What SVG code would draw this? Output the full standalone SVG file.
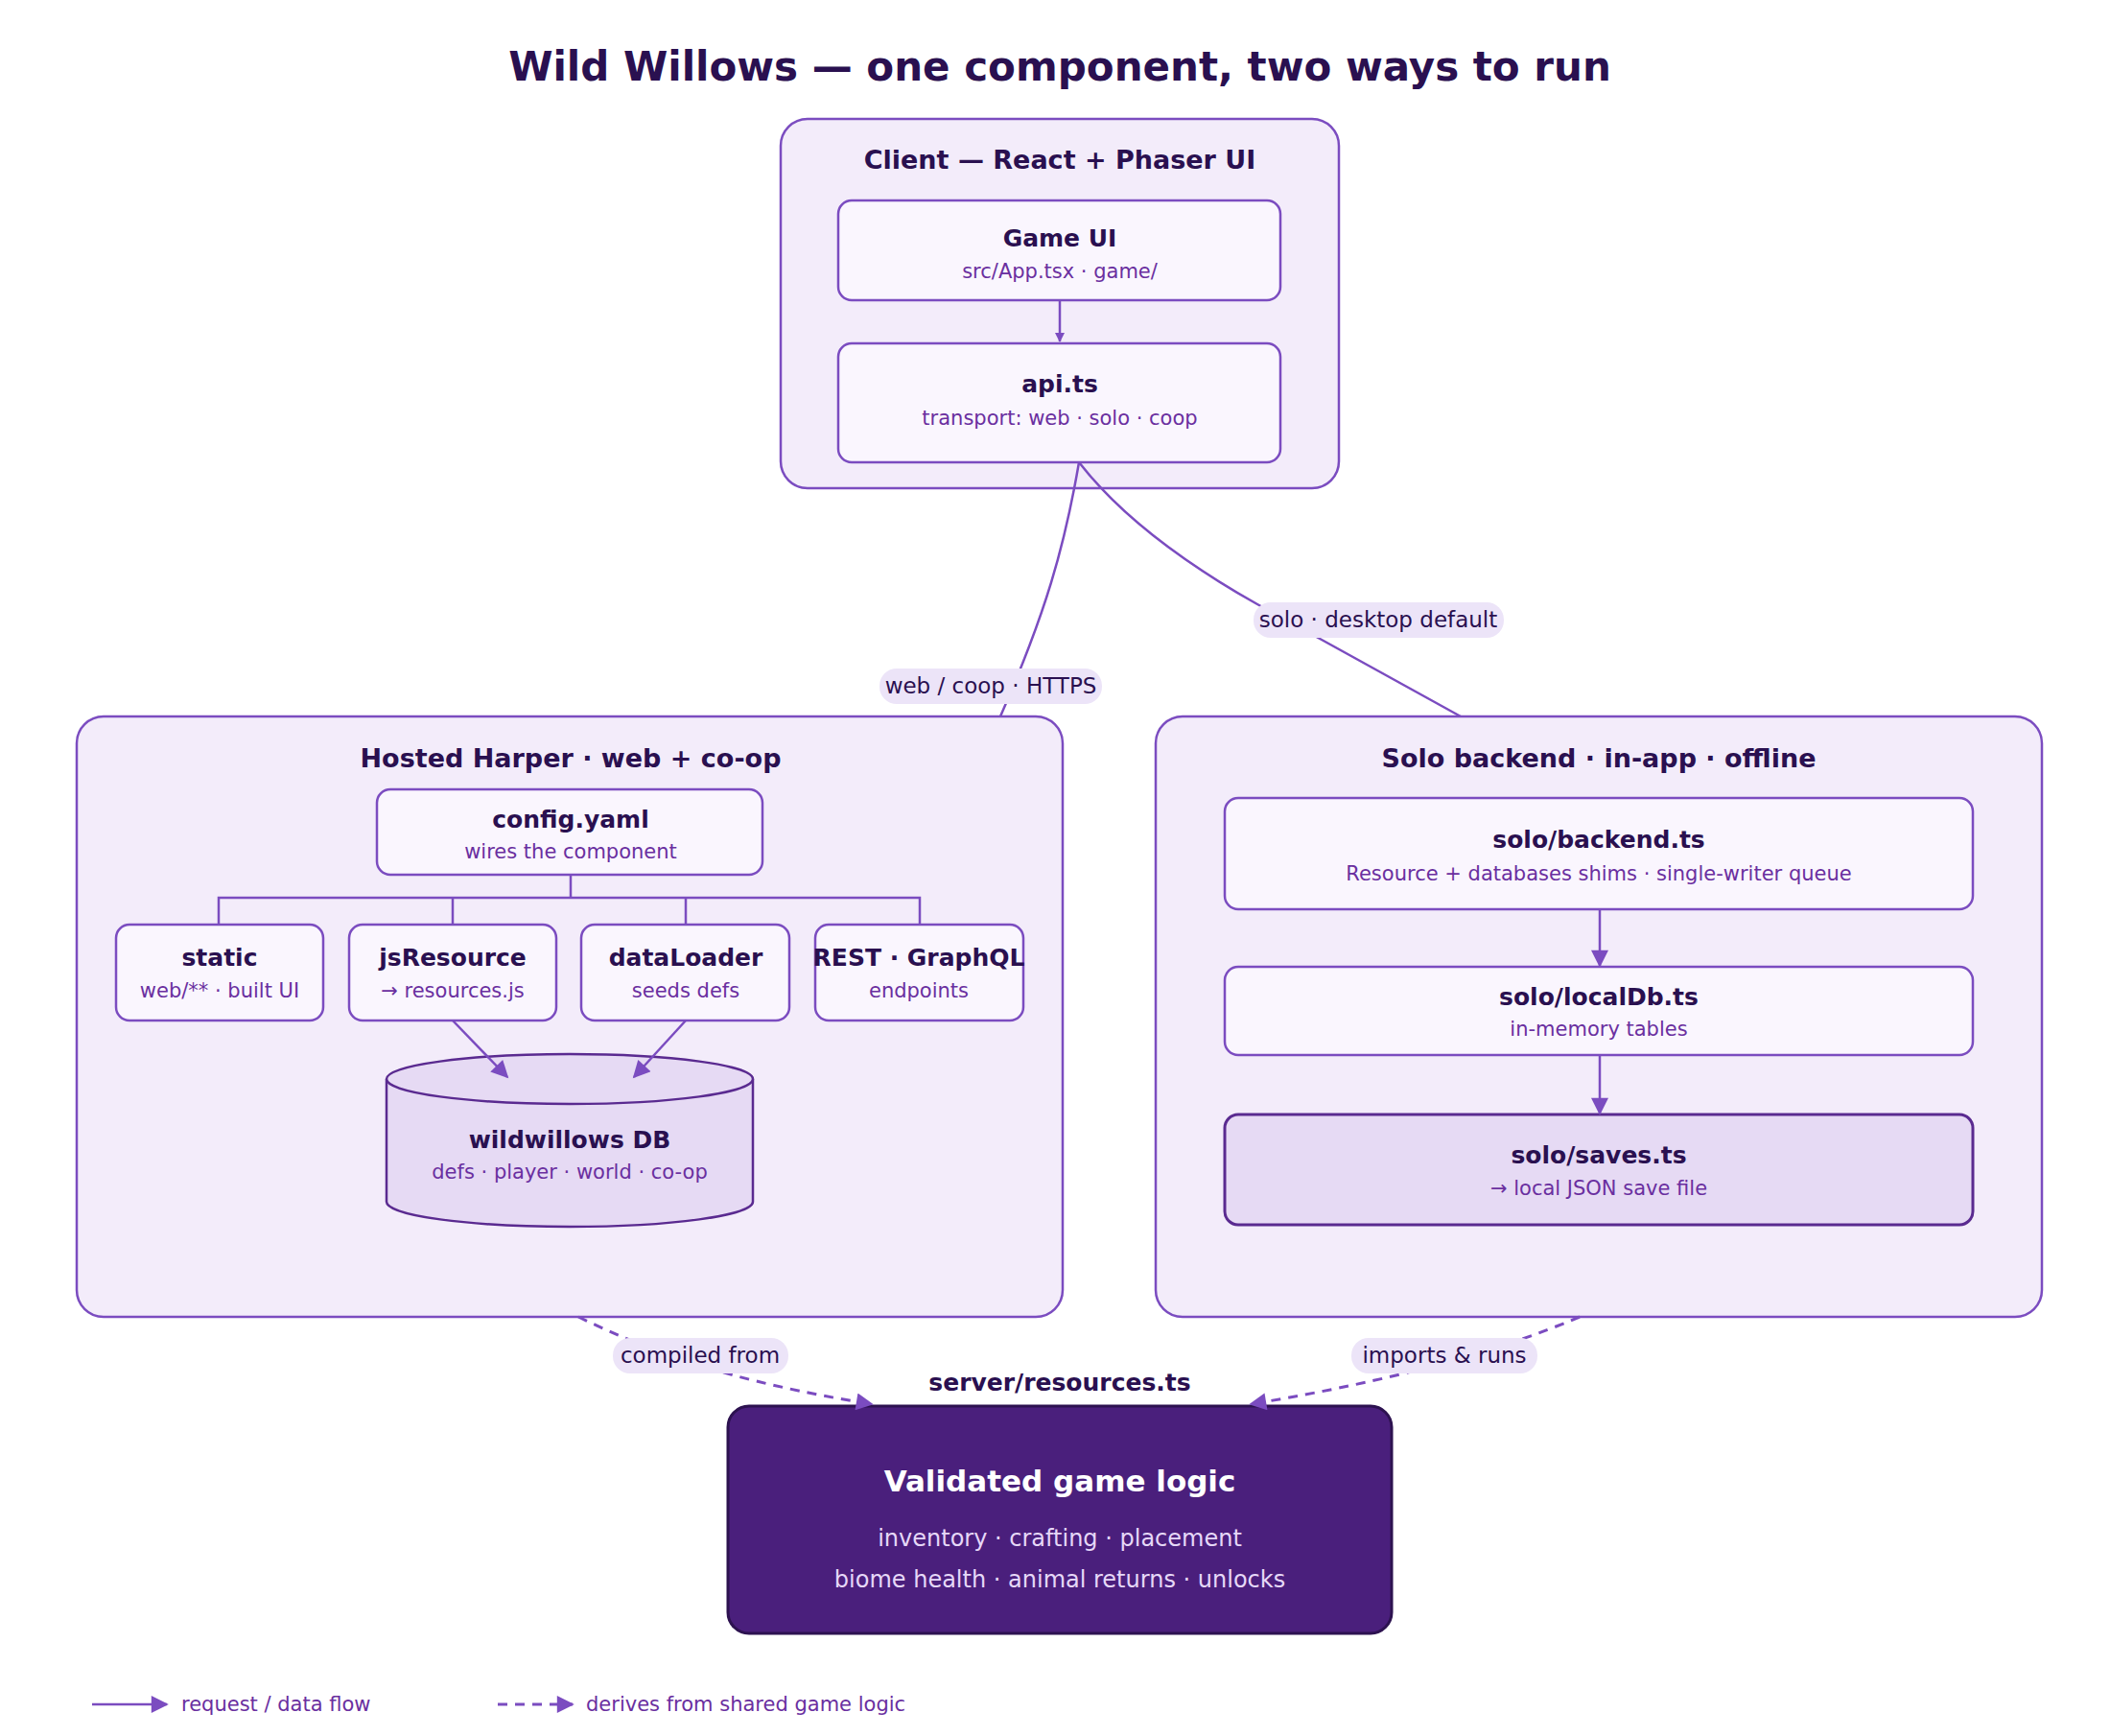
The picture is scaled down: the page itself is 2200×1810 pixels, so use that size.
<svg xmlns="http://www.w3.org/2000/svg" width="2200" height="1810" viewBox="0 0 2200 1810">
<defs>
<marker id="ah" viewBox="0 0 10 10" refX="9" refY="5" markerWidth="10" markerHeight="10" markerUnits="userSpaceOnUse" orient="auto"><path d="M0 0L10 5L0 10z" fill="#7b4cc0"/></marker>
<marker id="ahb" viewBox="0 0 10 10" refX="9" refY="5" markerWidth="20" markerHeight="18" markerUnits="userSpaceOnUse" orient="auto"><path d="M0 0L10 5L0 10z" fill="#7b4cc0"/></marker>
<style>
text{font-family:"DejaVu Sans","Liberation Sans",sans-serif;text-anchor:middle}
.t{font-weight:bold;fill:#2a1050}
.gt{font-size:27px}
.nt{font-size:25px}
.st{font-size:21px;fill:#6a2fa0}
.grp{fill:#f3ecfa;stroke:#7b4cc0;stroke-width:2.5}
.n{fill:#faf6fe;stroke:#7b4cc0;stroke-width:2.5}
.ln{fill:none;stroke:#7b4cc0;stroke-width:2.5}
.ds{fill:none;stroke:#7b4cc0;stroke-width:3;stroke-dasharray:10 8}
.pill{fill:#ece4f8}
.lb{font-size:23px;fill:#2a1050}
</style>
</defs>
<rect width="2200" height="1810" fill="#fff"/>
<text x="1105" y="84" class="t" style="font-size:42px">Wild Willows — one component, two ways to run</text>

<g id="client"><rect x="814" y="124" width="582" height="385" rx="28" class="grp"/>
<text x="1105" y="176" class="t gt">Client — React + Phaser UI</text></g>
<g id="gameui"><rect x="874" y="209" width="461" height="104" rx="14" class="n"/>
<text x="1105" y="257" class="t nt">Game UI</text><text x="1105" y="290" class="st">src/App.tsx · game/</text></g>
<g id="api"><rect x="874" y="358" width="461" height="124" rx="14" class="n"/>
<text x="1105" y="409" class="t nt">api.ts</text><text x="1105" y="443" class="st">transport: web · solo · coop</text></g>

<g id="hosted"><rect x="80" y="747" width="1028" height="626" rx="28" class="grp"/>
<text x="595" y="800" class="t gt">Hosted Harper · web + co-op</text></g>
<g id="config"><rect x="393" y="823" width="402" height="89" rx="14" class="n"/>
<text x="595" y="863" class="t nt">config.yaml</text><text x="595" y="895" class="st">wires the component</text></g>
<g id="static"><rect x="121" y="964" width="216" height="100" rx="14" class="n"/>
<text x="229" y="1007" class="t nt">static</text><text x="229" y="1040" class="st">web/** · built UI</text></g>
<g id="jsresource"><rect x="364" y="964" width="216" height="100" rx="14" class="n"/>
<text x="472" y="1007" class="t nt">jsResource</text><text x="472" y="1040" class="st">→ resources.js</text></g>
<g id="dataloader"><rect x="606" y="964" width="217" height="100" rx="14" class="n"/>
<text x="715" y="1007" class="t nt">dataLoader</text><text x="715" y="1040" class="st">seeds defs</text></g>
<g id="rest"><rect x="850" y="964" width="217" height="100" rx="14" class="n"/>
<text x="958" y="1007" class="t nt">REST · GraphQL</text><text x="958" y="1040" class="st">endpoints</text></g>
<g id="db">
<path d="M403 1125V1253A191 26 0 0 0 785 1253V1125" fill="#e6daf4" stroke="#5a2a90" stroke-width="2.5"/>
<ellipse cx="594" cy="1125" rx="191" ry="26" fill="#e6daf4" stroke="#5a2a90" stroke-width="2.5"/>
<text x="594" y="1197" class="t nt">wildwillows DB</text><text x="594" y="1229" class="st">defs · player · world · co-op</text></g>

<g id="solo"><rect x="1205" y="747" width="924" height="626" rx="28" class="grp"/>
<text x="1667" y="800" class="t gt">Solo backend · in-app · offline</text></g>
<g id="backend"><rect x="1277" y="832" width="780" height="116" rx="14" class="n"/>
<text x="1667" y="884" class="t nt">solo/backend.ts</text><text x="1667" y="918" class="st">Resource + databases shims · single-writer queue</text></g>
<g id="localdb"><rect x="1277" y="1008" width="780" height="92" rx="14" class="n"/>
<text x="1667" y="1048" class="t nt">solo/localDb.ts</text><text x="1667" y="1080" class="st">in-memory tables</text></g>
<g id="saves"><rect x="1277" y="1162" width="780" height="115" rx="14" fill="#e6daf4" stroke="#5a2a90" stroke-width="3"/>
<text x="1667" y="1213" class="t nt">solo/saves.ts</text><text x="1667" y="1246" class="st">→ local JSON save file</text></g>

<g id="logic"><rect x="759" y="1466" width="692" height="237" rx="22" fill="#4a1f7c" stroke="#2d1250" stroke-width="3"/>
<text x="1105" y="1555" style="font-size:31px;font-weight:bold;fill:#fff">Validated game logic</text>
<text x="1105" y="1612" style="font-size:24px;fill:#e6d8f8">inventory · crafting · placement</text>
<text x="1105" y="1655" style="font-size:24px;fill:#e6d8f8">biome health · animal returns · unlocks</text></g>
<text x="1105" y="1450" class="t nt">server/resources.ts</text>

<g id="connectors">
<line x1="1105" y1="313" x2="1105" y2="356" class="ln" marker-end="url(#ah)"/>
<path d="M595 912V936M228 964V936H959V964M472 936V964M715 936V964" class="ln" stroke-width="2"/>
<line x1="472" y1="1064" x2="529" y2="1123" class="ln" marker-end="url(#ahb)"/>
<line x1="715" y1="1064" x2="661" y2="1123" class="ln" marker-end="url(#ahb)"/>
<line x1="1668" y1="948" x2="1668" y2="1007" class="ln" marker-end="url(#ahb)"/>
<line x1="1668" y1="1100" x2="1668" y2="1161" class="ln" marker-end="url(#ahb)"/>
<path d="M1125 482C1110 570 1090 640 1043 747" class="ln"/>
<path d="M1125 482C1170 540 1240 590 1311 630L1523 747" class="ln"/>
<path d="M603 1373C680 1410 760 1440 909 1464" class="ds" marker-end="url(#ahb)"/>
<path d="M1647 1373C1560 1410 1450 1440 1304 1464" class="ds" marker-end="url(#ahb)"/>
<rect x="917" y="697" width="232" height="37" rx="18" class="pill"/><text x="1033" y="723" class="lb">web / coop · HTTPS</text>
<rect x="1307" y="628" width="261" height="37" rx="18" class="pill"/><text x="1437" y="654" class="lb">solo · desktop default</text>
<rect x="639" y="1395" width="183" height="37" rx="18" class="pill"/><text x="730" y="1421" class="lb">compiled from</text>
<rect x="1409" y="1395" width="194" height="37" rx="18" class="pill"/><text x="1506" y="1421" class="lb">imports &amp; runs</text>
</g>
<g id="legend">
<line x1="96" y1="1777" x2="174" y2="1777" class="ln" stroke-width="3" marker-end="url(#ahb)"/>
<text x="189" y="1784" class="st" style="text-anchor:start">request / data flow</text>
<line x1="519" y1="1777" x2="597" y2="1777" class="ds" marker-end="url(#ahb)"/>
<text x="611" y="1784" class="st" style="text-anchor:start">derives from shared game logic</text>
</g>
</svg>
